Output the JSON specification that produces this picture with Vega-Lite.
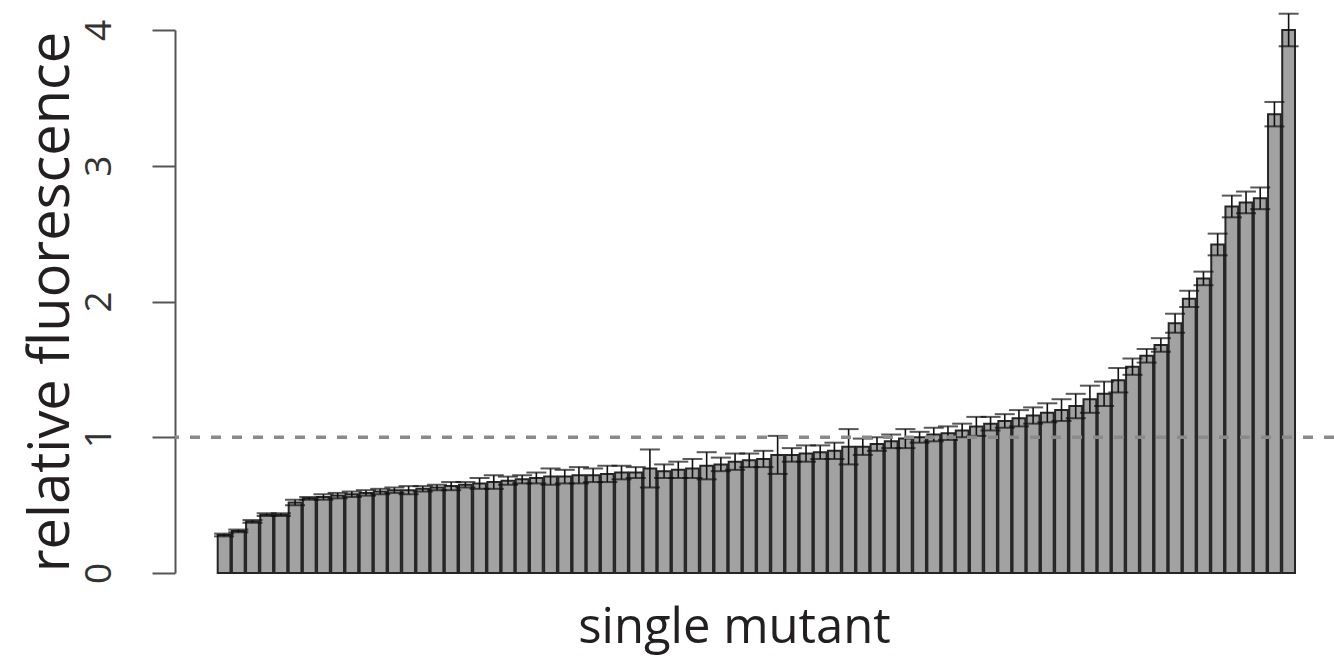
{
  "$schema": "https://vega.github.io/schema/vega-lite/v6.json",
  "autosize": "none",
  "width": 1159,
  "height": 543,
  "padding": {"left": 175, "top": 30, "right": 0, "bottom": 85},
  "background": "white",
  "config": {"view": {"stroke": null}, "font": "Open Sans"},
  "data": {"values": [
    {"i": 0, "v": 0.28, "lo": 0.27, "hi": 0.29},
    {"i": 1, "v": 0.31, "lo": 0.30, "hi": 0.32},
    {"i": 2, "v": 0.38, "lo": 0.37, "hi": 0.39},
    {"i": 3, "v": 0.43, "lo": 0.42, "hi": 0.44},
    {"i": 4, "v": 0.43, "lo": 0.42, "hi": 0.44},
    {"i": 5, "v": 0.52, "lo": 0.50, "hi": 0.54},
    {"i": 6, "v": 0.55, "lo": 0.54, "hi": 0.56},
    {"i": 7, "v": 0.56, "lo": 0.54, "hi": 0.58},
    {"i": 8, "v": 0.57, "lo": 0.55, "hi": 0.59},
    {"i": 9, "v": 0.58, "lo": 0.56, "hi": 0.60},
    {"i": 10, "v": 0.59, "lo": 0.57, "hi": 0.61},
    {"i": 11, "v": 0.60, "lo": 0.58, "hi": 0.62},
    {"i": 12, "v": 0.61, "lo": 0.59, "hi": 0.63},
    {"i": 13, "v": 0.61, "lo": 0.58, "hi": 0.64},
    {"i": 14, "v": 0.62, "lo": 0.60, "hi": 0.64},
    {"i": 15, "v": 0.63, "lo": 0.61, "hi": 0.65},
    {"i": 16, "v": 0.64, "lo": 0.61, "hi": 0.67},
    {"i": 17, "v": 0.65, "lo": 0.63, "hi": 0.67},
    {"i": 18, "v": 0.66, "lo": 0.62, "hi": 0.70},
    {"i": 19, "v": 0.67, "lo": 0.62, "hi": 0.72},
    {"i": 20, "v": 0.68, "lo": 0.65, "hi": 0.71},
    {"i": 21, "v": 0.69, "lo": 0.66, "hi": 0.72},
    {"i": 22, "v": 0.70, "lo": 0.66, "hi": 0.74},
    {"i": 23, "v": 0.71, "lo": 0.65, "hi": 0.77},
    {"i": 24, "v": 0.71, "lo": 0.66, "hi": 0.76},
    {"i": 25, "v": 0.72, "lo": 0.66, "hi": 0.78},
    {"i": 26, "v": 0.72, "lo": 0.67, "hi": 0.77},
    {"i": 27, "v": 0.73, "lo": 0.67, "hi": 0.79},
    {"i": 28, "v": 0.74, "lo": 0.69, "hi": 0.79},
    {"i": 29, "v": 0.74, "lo": 0.70, "hi": 0.78},
    {"i": 30, "v": 0.77, "lo": 0.63, "hi": 0.91},
    {"i": 31, "v": 0.75, "lo": 0.70, "hi": 0.80},
    {"i": 32, "v": 0.76, "lo": 0.70, "hi": 0.82},
    {"i": 33, "v": 0.77, "lo": 0.70, "hi": 0.84},
    {"i": 34, "v": 0.79, "lo": 0.69, "hi": 0.89},
    {"i": 35, "v": 0.80, "lo": 0.75, "hi": 0.85},
    {"i": 36, "v": 0.82, "lo": 0.76, "hi": 0.88},
    {"i": 37, "v": 0.83, "lo": 0.78, "hi": 0.88},
    {"i": 38, "v": 0.84, "lo": 0.78, "hi": 0.90},
    {"i": 39, "v": 0.87, "lo": 0.73, "hi": 1.01},
    {"i": 40, "v": 0.87, "lo": 0.82, "hi": 0.92},
    {"i": 41, "v": 0.88, "lo": 0.82, "hi": 0.94},
    {"i": 42, "v": 0.89, "lo": 0.84, "hi": 0.94},
    {"i": 43, "v": 0.90, "lo": 0.84, "hi": 0.96},
    {"i": 44, "v": 0.93, "lo": 0.80, "hi": 1.06},
    {"i": 45, "v": 0.93, "lo": 0.87, "hi": 0.99},
    {"i": 46, "v": 0.95, "lo": 0.90, "hi": 1.00},
    {"i": 47, "v": 0.97, "lo": 0.92, "hi": 1.02},
    {"i": 48, "v": 0.99, "lo": 0.92, "hi": 1.06},
    {"i": 49, "v": 1.00, "lo": 0.96, "hi": 1.04},
    {"i": 50, "v": 1.02, "lo": 0.97, "hi": 1.07},
    {"i": 51, "v": 1.03, "lo": 0.98, "hi": 1.08},
    {"i": 52, "v": 1.05, "lo": 1.00, "hi": 1.10},
    {"i": 53, "v": 1.08, "lo": 1.01, "hi": 1.15},
    {"i": 54, "v": 1.10, "lo": 1.05, "hi": 1.15},
    {"i": 55, "v": 1.12, "lo": 1.07, "hi": 1.17},
    {"i": 56, "v": 1.14, "lo": 1.08, "hi": 1.20},
    {"i": 57, "v": 1.16, "lo": 1.10, "hi": 1.22},
    {"i": 58, "v": 1.18, "lo": 1.11, "hi": 1.25},
    {"i": 59, "v": 1.20, "lo": 1.12, "hi": 1.28},
    {"i": 60, "v": 1.23, "lo": 1.14, "hi": 1.32},
    {"i": 61, "v": 1.28, "lo": 1.18, "hi": 1.38},
    {"i": 62, "v": 1.32, "lo": 1.23, "hi": 1.41},
    {"i": 63, "v": 1.42, "lo": 1.33, "hi": 1.51},
    {"i": 64, "v": 1.52, "lo": 1.46, "hi": 1.58},
    {"i": 65, "v": 1.60, "lo": 1.55, "hi": 1.65},
    {"i": 66, "v": 1.68, "lo": 1.63, "hi": 1.73},
    {"i": 67, "v": 1.84, "lo": 1.77, "hi": 1.91},
    {"i": 68, "v": 2.02, "lo": 1.96, "hi": 2.08},
    {"i": 69, "v": 2.17, "lo": 2.12, "hi": 2.22},
    {"i": 70, "v": 2.42, "lo": 2.34, "hi": 2.50},
    {"i": 71, "v": 2.70, "lo": 2.62, "hi": 2.78},
    {"i": 72, "v": 2.73, "lo": 2.65, "hi": 2.81},
    {"i": 73, "v": 2.76, "lo": 2.68, "hi": 2.84},
    {"i": 74, "v": 3.38, "lo": 3.29, "hi": 3.47},
    {"i": 75, "v": 4.00, "lo": 3.88, "hi": 4.12}
  ]},
  "encoding": {
    "x": {
      "field": "i",
      "type": "ordinal",
      "scale": {"range": [42.7, 1120], "paddingInner": 0.1, "paddingOuter": 0},
      "axis": {
        "labels": false, "ticks": false, "domain": false,
        "title": "single mutant",
        "titleFont": "Open Sans", "titleFontSize": 49, "titleFontWeight": "normal",
        "titleColor": "#231f20",
        "titleX": 559, "titleY": 69, "titleAlign": "center", "titleBaseline": "alphabetic"
      }
    }
  },
  "layer": [
    {
      "mark": {"type": "bar", "fill": "#a2a2a2", "stroke": "#262626", "strokeWidth": 2},
      "encoding": {
        "y": {
          "field": "v",
          "type": "quantitative",
          "scale": {"domain": [0, 4], "nice": false, "zero": true},
          "axis": {
            "values": [0, 1, 2, 3, 4],
            "format": "d",
            "grid": false,
            "domainColor": "#555555", "domainWidth": 2,
            "tickColor": "#555555", "tickWidth": 2, "tickSize": 23,
            "labelAngle": -90, "labelAlign": "center", "labelBaseline": "alphabetic",
            "labelPadding": 42, "labelFontSize": 37, "labelFont": "Open Sans", "labelColor": "#333333",
            "title": "relative fluorescence",
            "titleFont": "Open Sans", "titleFontSize": 56, "titleFontWeight": "normal",
            "titleColor": "#231f20", "titleAngle": -90,
            "titleX": -107, "titleY": 271.5, "titleAlign": "center", "titleBaseline": "alphabetic"
          }
        }
      }
    },
    {
      "mark": {"type": "rule", "color": "#111111", "strokeWidth": 1.6},
      "encoding": {
        "y": {"field": "lo", "type": "quantitative"},
        "y2": {"field": "hi"}
      }
    },
    {
      "mark": {"type": "tick", "color": "#111111", "size": 20, "thickness": 2},
      "encoding": {"y": {"field": "hi", "type": "quantitative"}}
    },
    {
      "mark": {"type": "tick", "color": "#111111", "size": 20, "thickness": 2},
      "encoding": {"y": {"field": "lo", "type": "quantitative"}}
    },
    {
      "data": {"values": [{"ref": 1}]},
      "mark": {"type": "rule", "color": "#8a8a8a", "strokeWidth": 3.5, "strokeDash": [10, 11]},
      "encoding": {"y": {"field": "ref", "type": "quantitative"}, "x": null}
    }
  ]
}
